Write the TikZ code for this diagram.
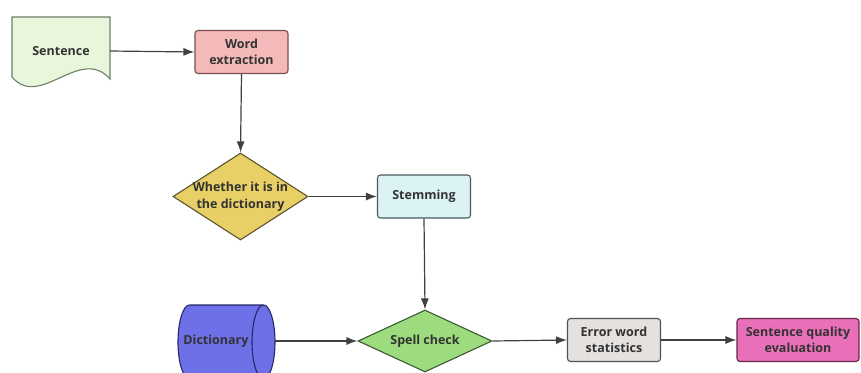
\documentclass[tikz,border=0pt]{standalone}
\usepackage{fontspec}
\setmainfont{Open Sans}
\usetikzlibrary{shapes.geometric,arrows.meta}
\definecolor{txt}{HTML}{333333}
\definecolor{linec}{HTML}{404040}
\definecolor{sentfill}{HTML}{E8F6DC}
\definecolor{sentline}{HTML}{6F7F68}
\definecolor{wordfill}{HTML}{F4BABA}
\definecolor{wordline}{HTML}{7A4E4E}
\definecolor{yelfill}{HTML}{E8CF66}
\definecolor{yelline}{HTML}{5E532B}
\definecolor{stemfill}{HTML}{DCF3F6}
\definecolor{stemline}{HTML}{4A5C60}
\definecolor{dictfill}{HTML}{6D70E6}
\definecolor{dictline}{HTML}{262868}
\definecolor{spellfill}{HTML}{9CDB7E}
\definecolor{spellline}{HTML}{3C5A30}
\definecolor{errfill}{HTML}{E4E1DF}
\definecolor{errline}{HTML}{505050}
\definecolor{qualfill}{HTML}{E96FB9}
\definecolor{qualline}{HTML}{642848}

\tikzset{
  lbl/.style={font=\bfseries\fontsize{12.5}{16.5}\selectfont, text=txt, align=center},
  box/.style={lbl, draw, rounded corners=3pt, line width=1.1pt,
    minimum width=93pt, minimum height=43pt, inner sep=0pt},
  decide/.style={diamond, draw, line width=1.1pt, inner sep=0pt},
  flow/.style={draw=linec, line width=1.2pt, -{Latex[length=11pt,width=8pt]}},
  endcap/.style={x radius=11.5pt, y radius=37pt},
}

\begin{document}
\begin{tikzpicture}[x=1pt,y=-1pt]
  \clip (0,0) rectangle (861,372);
  \useasboundingbox (0,0) rectangle (861,372);

  % sentence (document shape)
  \draw[fill=sentfill, draw=sentline, line width=1.1pt]
    (12,17) -- (110,17) -- (110,79)
    .. controls (80,45) and (40,110) .. (12,77) -- cycle;
  \node[lbl, minimum width=98pt] (sent) at (61,51) {Sentence};

  \node[box, fill=wordfill, draw=wordline] (word) at (241.5,52) {Word\\extraction};

  \node[decide, fill=yelfill, draw=yelline,
    minimum width=135pt, minimum height=87pt] (indict) at (240.5,196.5) {};
  \node[lbl] (indicttext) at (indict) {Whether it is in\\the dictionary};

  \node[box, fill=stemfill, draw=stemline] (stem) at (424,196.5) {Stemming};

  % dictionary (drum)
  \draw[fill=dictfill, draw=dictline, line width=1.1pt]
    (189.5,305) -- (263.5,305) arc[start angle=90, end angle=-90, endcap]
    -- (189.5,379) arc[start angle=270, end angle=90, endcap] -- cycle;
  \draw[draw=dictline, line width=1.1pt]
    (263.5,379) arc[start angle=270, end angle=90, endcap];
  \node[lbl, minimum width=118pt] (dict) at (216,341) {Dictionary};

  \node[decide, fill=spellfill, draw=spellline,
    minimum width=134pt, minimum height=62pt] (spell) at (425,341) {};
  \node[lbl] (spelltext) at (spell) {Spell check};

  \node[box, fill=errfill, draw=errline] (err) at (614,340) {Error word\\statistics};
  \node[box, fill=qualfill, draw=qualline, minimum width=122pt] (qual) at (798,340)
    {Sentence quality\\evaluation};

  % connectors
  \draw[flow] (sent.east) -- (word.west);
  \draw[flow] (word.south) -- (indict.north);
  \draw[flow] (indict.east) -- (stem.west);
  \draw[flow] (stem.south) -- (spell.north);
  \draw[flow] (dict.east) -- (spell.west);
  \draw[flow] (spell.east) -- (err.west);
  \draw[flow] (err.east) -- (qual.west);
\end{tikzpicture}
\end{document}
